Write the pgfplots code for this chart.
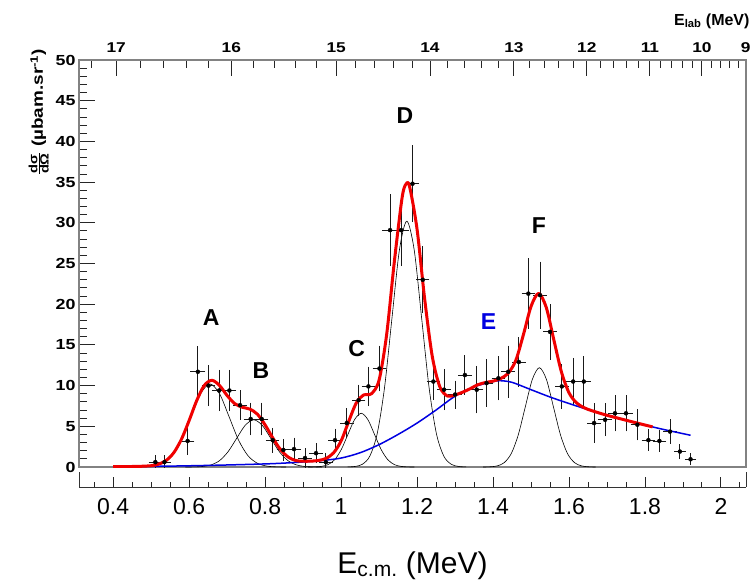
\documentclass[border=0pt]{standalone}
\usepackage{fontspec}
\setmainfont{Liberation Sans}
\newfontfamily\widesans[FakeStretch=1.22]{Liberation Sans}
\usepackage{pgfplots}
\pgfplotsset{compat=1.18}
\usepackage{pgfplotstable}

\definecolor{fitred}{RGB}{240,0,0}
\definecolor{fitblue}{RGB}{0,0,225}
\definecolor{framegray}{RGB}{130,130,130}

\pgfplotstableread{
x y ex ey
0.511 0.6 0.013 0.6
0.535 0.6 0.013 0.6
0.596 3.2 0.013 1.5
0.623 11.7 0.015 2.9
0.651 10.0 0.013 2.3
0.679 9.4 0.013 2.3
0.706 9.4 0.013 2.3
0.734 7.6 0.013 1.6
0.762 5.9 0.013 1.8
0.791 5.9 0.013 1.8
0.820 3.3 0.013 1.3
0.848 2.1 0.013 1.1
0.876 2.2 0.013 1.2
0.905 1.1 0.013 1.0
0.934 1.7 0.013 1.0
0.960 0.6 0.013 0.9
0.984 3.3 0.013 1.2
1.015 5.4 0.013 1.6
1.046 8.2 0.013 1.7
1.072 9.9 0.013 2.2
1.101 12.1 0.013 2.6
1.129 29.1 0.016 4.2
1.158 29.1 0.016 4.2
1.188 34.8 0.013 4.5
1.215 23.0 0.013 3.9
1.243 10.5 0.013 2.0
1.271 9.5 0.013 2.3
1.300 8.9 0.013 1.5
1.326 11.3 0.013 2.2
1.357 9.5 0.013 2.7
1.383 10.3 0.013 2.7
1.414 10.9 0.013 2.5
1.440 11.7 0.013 3.0
1.468 12.9 0.013 2.8
1.493 21.3 0.013 4.1
1.524 21.1 0.013 3.9
1.550 16.6 0.013 3.2
1.581 9.9 0.013 2.5
1.611 10.5 0.013 2.7
1.639 10.5 0.013 2.9
1.666 5.4 0.013 2.2
1.695 5.8 0.013 1.8
1.721 6.6 0.013 2.0
1.750 6.6 0.013 2.0
1.780 5.2 0.013 1.7
1.809 3.3 0.013 1.1
1.838 3.2 0.013 1.1
1.866 4.35 0.013 1.3
1.892 1.9 0.010 0.7
1.920 0.95 0.010 0.5
}\datatab

\begin{document}
\begin{tikzpicture}[x=1pt,y=1pt]
\path[use as bounding box] (0,0) rectangle (754,-581);

% bottom strip axis (E c.m.)
\begin{axis}[
  at={(79pt,-487pt)}, anchor=south west,
  width=667pt, height=15pt, scale only axis,
  xmin=0.31, xmax=2.066, ymin=0, ymax=1,
  axis x line*=bottom, axis y line*=box,
  ytick=\empty,
  xtick={0.4,0.6,0.8,1.0,1.2,1.4,1.6,1.8,2.0},
  xticklabels={0.4,0.6,0.8,1,1.2,1.4,1.6,1.8,2},
  minor xtick={0.35,0.45,0.5,0.55,0.65,0.7,0.75,0.85,0.9,0.95,1.05,1.1,1.15,1.25,1.3,1.35,1.45,1.5,1.55,1.65,1.7,1.75,1.85,1.9,1.95,2.05},
  tick align=inside, major tick length=10pt, minor tick length=5pt,
  axis line style={black!80, line width=1pt},
  tick style={black!85, line width=0.9pt},
  xticklabel style={font=\fontsize{23}{26}\selectfont, anchor=base, yshift=-27pt},
  xlabel={E\textsubscript{c.m.} (MeV)},
  xlabel style={at={(rel axis cs:0.5,0)}, anchor=base, yshift=-86pt, font=\fontsize{30}{34}\selectfont},
]
\end{axis}

% main axis
\begin{axis}[
  at={(79pt,-467pt)}, anchor=south west,
  width=667pt, height=407pt, scale only axis,
  xmin=0.31, xmax=2.066, ymin=0, ymax=50,
  axis line style={draw=framegray, line width=1.4pt},
  tick align=inside,
  xtick pos=right, xticklabel pos=right,
  ytick pos=left,
  xtick={0.408,0.711,0.987,1.234,1.455,1.647,1.813,1.950,2.065},
  xticklabels={17,16,15,14,13,12,11,10,9},
  minor xtick={0.342,0.471,0.532,0.593,0.652,0.768,0.824,0.880,0.934,1.038,1.089,1.138,1.187,1.280,1.325,1.370,1.413,1.495,1.535,1.573,1.611,1.682,1.716,1.750,1.782,1.842,1.871,1.898,1.925,1.975,1.999,2.023,2.045},
  ytick={0,5,...,50}, minor y tick num=4,
  major tick length=16pt, minor tick length=7.5pt,
  tick style={black!85, line width=0.9pt},
  /pgf/number format/assume math mode=true,
  yticklabel style={font=\widesans\fontsize{14.6}{16}\selectfont\bfseries},
  xticklabel style={font=\widesans\fontsize{14.2}{16}\selectfont\bfseries, anchor=base, yshift=8pt},
  ylabel={$\frac{\mbox{\widesans\fontsize{12}{12}\selectfont\bfseries dσ}}{\mbox{\widesans\fontsize{12}{12}\selectfont\bfseries dΩ}}$ (µbam.sr\textsuperscript{-1})},
  ylabel style={at={(ticklabel cs:0.872)}, font=\widesans\fontsize{15.5}{17}\selectfont\bfseries},
]
% Gaussian components
\addplot[black, line width=0.6pt, smooth] coordinates {(0.455,0.00)(0.48,0.02)(0.505,0.11)(0.53,0.45)(0.555,1.38)(0.58,3.31)(0.605,6.19)(0.63,9.00)(0.655,10.2)(0.68,9.00)(0.705,6.19)(0.73,3.31)(0.755,1.38)(0.78,0.45)(0.805,0.11)(0.83,0.02)(0.855,0.00)};
\addplot[black, line width=0.6pt, smooth] coordinates {(0.59,0)(0.6125,0.013)(0.635,0.064)(0.6575,0.255)(0.68,0.785)(0.7025,1.883)(0.725,3.518)(0.7475,5.119)(0.77,5.8)(0.7925,5.119)(0.815,3.518)(0.8375,1.883)(0.86,0.785)(0.8825,0.255)(0.905,0.064)(0.9275,0.013)(0.95,0)};
\addplot[black, line width=0.6pt, smooth] coordinates {(0.913,0)(0.9305,0.014)(0.948,0.073)(0.9655,0.29)(0.983,0.893)(1.0005,2.143)(1.018,4.003)(1.0355,5.825)(1.053,6.6)(1.0705,5.825)(1.088,4.003)(1.1055,2.143)(1.123,0.893)(1.1405,0.29)(1.158,0.073)(1.1755,0.014)(1.193,0)};
\addplot[black, line width=0.6pt, smooth] coordinates {(1.017,0.01)(1.0365,0.066)(1.056,0.335)(1.0755,1.326)(1.095,4.086)(1.1145,9.806)(1.134,18.316)(1.1535,26.65)(1.173,30.2)(1.1925,26.65)(1.212,18.316)(1.2315,9.806)(1.251,4.086)(1.2705,1.326)(1.29,0.335)(1.3095,0.066)(1.329,0.01)};
\addplot[black, line width=0.6pt, smooth] coordinates {(1.374,0)(1.3925,0.027)(1.411,0.135)(1.4295,0.536)(1.448,1.651)(1.4665,3.961)(1.485,7.399)(1.5035,10.767)(1.522,12.2)(1.5405,10.767)(1.559,7.399)(1.5775,3.961)(1.596,1.651)(1.6145,0.536)(1.633,0.135)(1.6515,0.027)(1.67,0)};
% data
\addplot[only marks, mark=none, black,
  error bars/.cd, x dir=both, x explicit, y dir=both, y explicit,
  error bar style={line width=0.9pt, black!90},
  error mark options={mark size=1.8pt, line width=0.9pt, black!90}]
  table[x=x, y=y, x error=ex, y error=ey] {\datatab};
% broad component E
\addplot[fitblue, line width=1.5pt, smooth] coordinates {(0.40,0.05)(0.50,0.08)(0.60,0.15)(0.70,0.25)(0.80,0.38)(0.85,0.48)(0.90,0.62)(0.95,0.80)(1.00,1.10)(1.05,1.75)(1.10,2.75)(1.15,4.0)(1.20,5.4)(1.25,7.0)(1.30,8.7)(1.35,9.85)(1.40,10.5)(1.42,10.6)(1.45,10.4)(1.50,9.5)(1.55,8.6)(1.60,7.8)(1.65,7.05)(1.70,6.35)(1.75,5.75)(1.80,5.15)(1.85,4.6)(1.90,4.1)(1.92,3.9)};
% total fit
\addplot[fitred, line width=3pt, smooth, line join=round] coordinates {(0.40,0.05)(0.46,0.07)(0.50,0.16)(0.52,0.36)(0.54,0.82)(0.56,1.79)(0.58,3.44)(0.60,5.72)(0.62,8.17)(0.64,10.03)(0.66,10.65)(0.68,10.01)(0.70,8.78)(0.72,7.79)(0.74,7.34)(0.76,7.11)(0.78,6.47)(0.80,5.17)(0.82,3.58)(0.84,2.17)(0.86,1.24)(0.88,0.80)(0.90,0.71)(0.92,0.72)(0.94,0.80)(0.96,1.05)(0.98,1.73)(1.00,3.2)(1.02,5.6)(1.04,7.87)(1.06,8.87)(1.08,9.01)(1.10,10.67)(1.12,16.3)(1.14,25.15)(1.16,32.9)(1.17,34.7)(1.18,34.5)(1.20,29.2)(1.22,20.65)(1.24,13.6)(1.26,9.85)(1.28,8.72)(1.30,8.85)(1.32,9.19)(1.34,9.62)(1.36,10.11)(1.38,10.38)(1.40,10.55)(1.42,10.87)(1.44,11.52)(1.46,13.1)(1.48,16.26)(1.50,19.72)(1.52,21.32)(1.54,19.62)(1.56,15.64)(1.58,11.69)(1.60,9.12)(1.62,7.87)(1.64,7.28)(1.66,6.92)(1.70,6.35)(1.74,5.87)(1.78,5.39)(1.82,4.93)};
% peak labels
\node[font=\fontsize{23}{26}\selectfont\bfseries] at (axis cs:0.658,18.4) {A};
\node[font=\fontsize{23}{26}\selectfont\bfseries] at (axis cs:0.789,11.9) {B};
\node[font=\fontsize{23}{26}\selectfont\bfseries] at (axis cs:1.041,14.6) {C};
\node[font=\fontsize{23}{26}\selectfont\bfseries] at (axis cs:1.168,43.2) {D};
\node[font=\fontsize{23}{26}\selectfont\bfseries, text=fitblue] at (axis cs:1.388,17.85) {E};
\node[font=\fontsize{23}{26}\selectfont\bfseries] at (axis cs:1.521,29.7) {F};
\end{axis}

\node[anchor=base east, font=\fontsize{16}{18}\selectfont\bfseries] at (753,-25) {E\textsubscript{lab} (MeV)};
\end{tikzpicture}
\end{document}
